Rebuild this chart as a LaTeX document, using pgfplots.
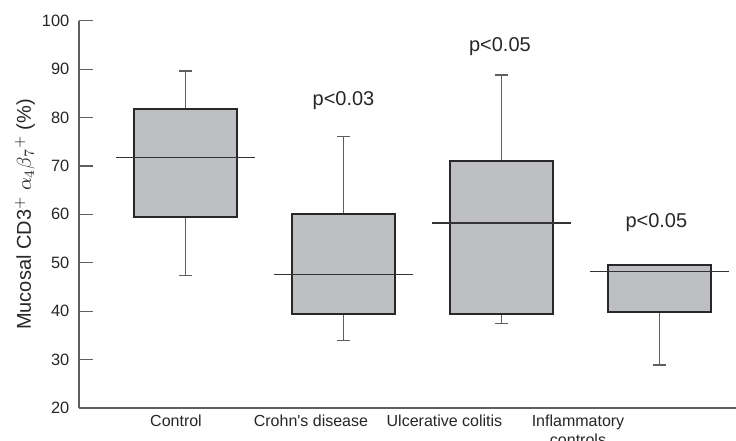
\documentclass[border=0pt]{standalone}
\usepackage{pgfplots}
\pgfplotsset{compat=1.18}
\usepackage{fontspec}
\setmainfont{Liberation Sans}
\newfontfamily\lib{Liberation Sans}
\definecolor{boxfill}{RGB}{190,191,195}
\definecolor{boxedge}{RGB}{40,40,40}
\definecolor{axgray}{RGB}{95,95,95}
\pgfplotsset{
  boxst/.style={draw=boxedge, fill=boxfill, line width=0.9pt, mark=none},
  whst/.style={draw=axgray, line width=0.6pt, mark=none, unbounded coords=jump},
  medline/.style={draw=black!80, line width=0.6pt, mark=none},
}
\begin{document}
\begin{tikzpicture}
\begin{axis}[
  name=ax,
  scale only axis, width=328.5pt, height=193.65pt,
  xmin=-0.674, xmax=3.484, ymin=20, ymax=100,
  axis lines*=left,
  axis line style={axgray, line width=0.8pt},
  ytick={20,30,...,100},
  tick align=inside, major tick length=7pt,
  ytick style={axgray, line width=0.6pt},
  xtick={-0.06,0.794,1.639,2.484},
  xticklabels={Control, Crohn's disease, Ulcerative colitis, {Inflammatory\\controls}},
  xtick style={draw=none},
  xticklabel style={align=center, font=\lib\fontsize{8}{9.5}\selectfont, text=black!85},
  yticklabel style={font=\lib\fontsize{8.2}{10}\selectfont, text=black!85, xshift=-1.3pt},
  /pgf/number format/assume math mode=true,
  ylabel={Mucosal CD3$^+$ $\alpha_4\beta_7{}^+$ (\%)},
  ylabel style={at={(axis description cs:0,0.5)}, anchor=center, yshift=27pt,
    font=\lib\fontsize{10}{12}\selectfont, text=black!85},
  clip=false,
]
% Control: whiskers 47.3 / 89.6, quartiles 59.4 / 81.7, median 71.7
\addplot[whst] coordinates {(0,81.7) (0,89.6) (0,nan) (-0.0425,89.6) (0.0425,89.6) (0,nan)
  (0,59.4) (0,47.3) (0,nan) (-0.0425,47.3) (0.0425,47.3)};
\addplot[boxst] coordinates {(-0.325,59.4) (0.325,59.4) (0.325,81.7) (-0.325,81.7)} -- cycle;
\addplot[medline] coordinates {(-0.44,71.7) (0.44,71.7)};
% Crohn's disease: whiskers 33.9 / 76.1, quartiles 39.4 / 60.0, median 47.6
\addplot[whst] coordinates {(1,60.0) (1,76.1) (1,nan) (0.9575,76.1) (1.0425,76.1) (1,nan)
  (1,39.4) (1,33.9) (1,nan) (0.9575,33.9) (1.0425,33.9)};
\addplot[boxst] coordinates {(0.675,39.4) (1.325,39.4) (1.325,60.0) (0.675,60.0)} -- cycle;
\addplot[medline] coordinates {(0.56,47.6) (1.44,47.6)};
% Ulcerative colitis: whiskers 37.5 / 88.8, quartiles 39.4 / 71.0, median 58.2
\addplot[whst] coordinates {(2,71.0) (2,88.8) (2,nan) (1.9575,88.8) (2.0425,88.8) (2,nan)
  (2,39.4) (2,37.5) (2,nan) (1.9575,37.5) (2.0425,37.5)};
\addplot[boxst] coordinates {(1.675,39.4) (2.325,39.4) (2.325,71.0) (1.675,71.0)} -- cycle;
\addplot[medline] coordinates {(1.56,58.2) (2.44,58.2)};
% Inflammatory controls: whiskers 28.9 / 49.5, quartiles 39.8 / 49.5, median 48.2
\addplot[whst] coordinates {(3,39.8) (3,28.9) (3,nan) (2.9575,28.9) (3.0425,28.9)};
\addplot[boxst] coordinates {(2.675,39.8) (3.325,39.8) (3.325,49.5) (2.675,49.5)} -- cycle;
\addplot[medline] coordinates {(2.56,48.2) (3.44,48.2)};
\node[font=\lib\fontsize{10}{12}\selectfont, text=black!85] at (axis cs:1.0,83.6) {p<0.03};
\node[font=\lib\fontsize{10}{12}\selectfont, text=black!85] at (axis cs:1.99,94.6) {p<0.05};
\node[font=\lib\fontsize{10}{12}\selectfont, text=black!85] at (axis cs:2.98,58.3) {p<0.05};
\end{axis}
\pgfresetboundingbox
\path[use as bounding box] ([xshift=-39.5pt,yshift=-16.5pt]ax.south west) rectangle ([yshift=10.35pt]ax.north east);
\end{tikzpicture}
\end{document}
